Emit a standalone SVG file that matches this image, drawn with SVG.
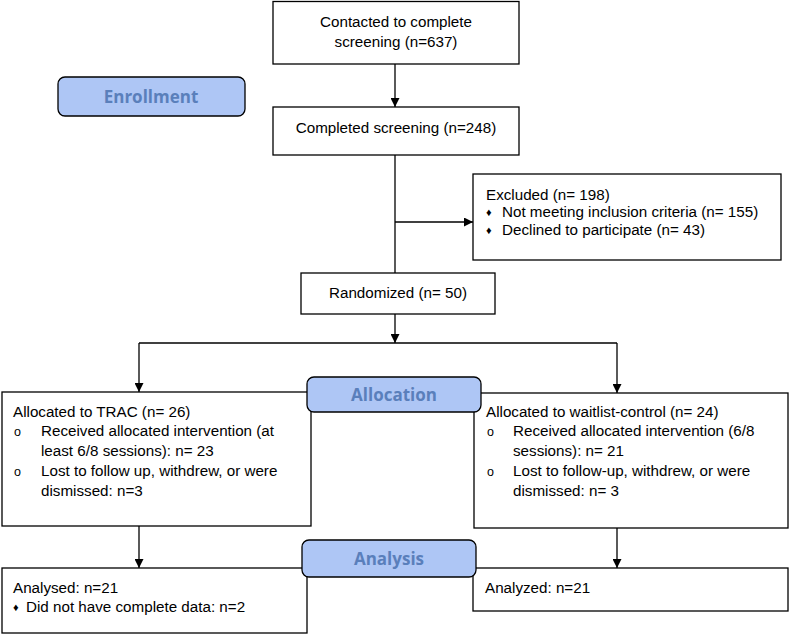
<svg xmlns="http://www.w3.org/2000/svg" width="794" height="634" viewBox="0 0 794 634">
  <style>
    .box { fill: #ffffff; stroke: #000000; stroke-width: 1.3; }
    .pill { fill: #aec6f5; stroke: #000000; stroke-width: 1.3; }
    .t { font-family: "Liberation Sans", Arial, sans-serif; font-size: 15.2px; fill: #000000; }
    .c { text-anchor: middle; }
    .pt { font-family: "Open Sans", "DejaVu Sans", sans-serif; font-size: 17px; font-weight: bold; fill: #5a7fbb; text-anchor: middle; }
    .bul { font-family: "Liberation Sans", Arial, sans-serif; font-size: 11px; fill: #000000; }
    .o { font-family: "Liberation Sans", Arial, sans-serif; font-size: 12.5px; fill: #000000; }
    .link { fill: none; stroke: #000000; stroke-width: 1.3; }
  </style>
  <defs>
    <marker id="arrow" viewBox="0 0 10 10" refX="10" refY="5" markerWidth="9" markerHeight="9" markerUnits="userSpaceOnUse" orient="auto">
      <path d="M0,0 L10,5 L0,10 Z" fill="#000000"/>
    </marker>
  </defs>

  <rect width="794" height="634" fill="#ffffff"/>

  <!-- connectors -->
  <g id="connectors">
    <line class="link" x1="395" y1="64" x2="395" y2="107" marker-end="url(#arrow)"/>
    <line class="link" x1="395" y1="155" x2="395" y2="273"/>
    <line class="link" x1="395" y1="222" x2="473" y2="222" marker-end="url(#arrow)"/>
    <line class="link" x1="395" y1="314" x2="395" y2="343" marker-end="url(#arrow)"/>
    <polyline class="link" points="139,343 617,343"/>
    <line class="link" x1="139" y1="343" x2="139" y2="392" marker-end="url(#arrow)"/>
    <line class="link" x1="617" y1="343" x2="617" y2="393" marker-end="url(#arrow)"/>
    <line class="link" x1="139" y1="526" x2="139" y2="568" marker-end="url(#arrow)"/>
    <line class="link" x1="617" y1="528" x2="617" y2="568" marker-end="url(#arrow)"/>
  </g>

  <!-- flow boxes -->
  <g id="contacted">
    <rect class="box" x="273" y="1.5" width="246" height="62.5"/>
    <text class="t c" x="396" y="27">Contacted to complete</text>
    <text class="t c" x="396" y="47">screening (n=637)</text>
  </g>

  <g id="completed">
    <rect class="box" x="273" y="107" width="246" height="48"/>
    <text class="t c" x="396" y="133">Completed screening (n=248)</text>
  </g>

  <g id="excluded">
    <rect class="box" x="473" y="174" width="308" height="86"/>
    <text class="t" x="486" y="200">Excluded (n= 198)</text>
    <text class="bul" x="486" y="216">♦</text>
    <text class="t" x="502" y="217">Not meeting inclusion criteria (n= 155)</text>
    <text class="bul" x="486" y="234">♦</text>
    <text class="t" x="502" y="235">Declined to participate (n= 43)</text>
  </g>

  <g id="randomized">
    <rect class="box" x="301" y="273" width="194" height="41"/>
    <text class="t c" x="398" y="298">Randomized (n= 50)</text>
  </g>

  <g id="trac">
    <rect class="box" x="2" y="392" width="309" height="134"/>
    <text class="t" x="13" y="417">Allocated to TRAC (n= 26)</text>
    <text class="o" x="14" y="436">o</text>
    <text class="t" x="41" y="436">Received allocated intervention (at</text>
    <text class="t" x="41" y="456">least 6/8 sessions): n= 23</text>
    <text class="o" x="14" y="476">o</text>
    <text class="t" x="41" y="476">Lost to follow up, withdrew, or were</text>
    <text class="t" x="41" y="496">dismissed: n=3</text>
  </g>

  <g id="waitlist">
    <rect class="box" x="474" y="393" width="314" height="135"/>
    <text class="t" x="486" y="417">Allocated to waitlist-control (n= 24)</text>
    <text class="o" x="487" y="436">o</text>
    <text class="t" x="513" y="436">Received allocated intervention (6/8</text>
    <text class="t" x="513" y="456">sessions): n= 21</text>
    <text class="o" x="487" y="476">o</text>
    <text class="t" x="513" y="476">Lost to follow-up, withdrew, or were</text>
    <text class="t" x="513" y="496">dismissed: n= 3</text>
  </g>

  <g id="analysed">
    <rect class="box" x="2" y="568" width="305" height="65"/>
    <text class="t" x="13" y="593">Analysed: n=21</text>
    <text class="bul" x="13" y="611">♦</text>
    <text class="t" x="26" y="612">Did not have complete data: n=2</text>
  </g>

  <g id="analyzed">
    <rect class="box" x="473" y="568" width="315" height="43"/>
    <text class="t" x="485" y="593">Analyzed: n=21</text>
  </g>

  <!-- stage labels -->
  <g id="enrollment">
    <rect class="pill" x="58" y="77" width="187" height="39" rx="7"/>
    <text class="pt" x="151" y="103">Enrollment</text>
  </g>

  <g id="allocation">
    <rect class="pill" x="307" y="377" width="174" height="35" rx="7"/>
    <text class="pt" x="394" y="401">Allocation</text>
  </g>

  <g id="analysis">
    <rect class="pill" x="302" y="540" width="174" height="37" rx="7"/>
    <text class="pt" x="389" y="565">Analysis</text>
  </g>
</svg>
